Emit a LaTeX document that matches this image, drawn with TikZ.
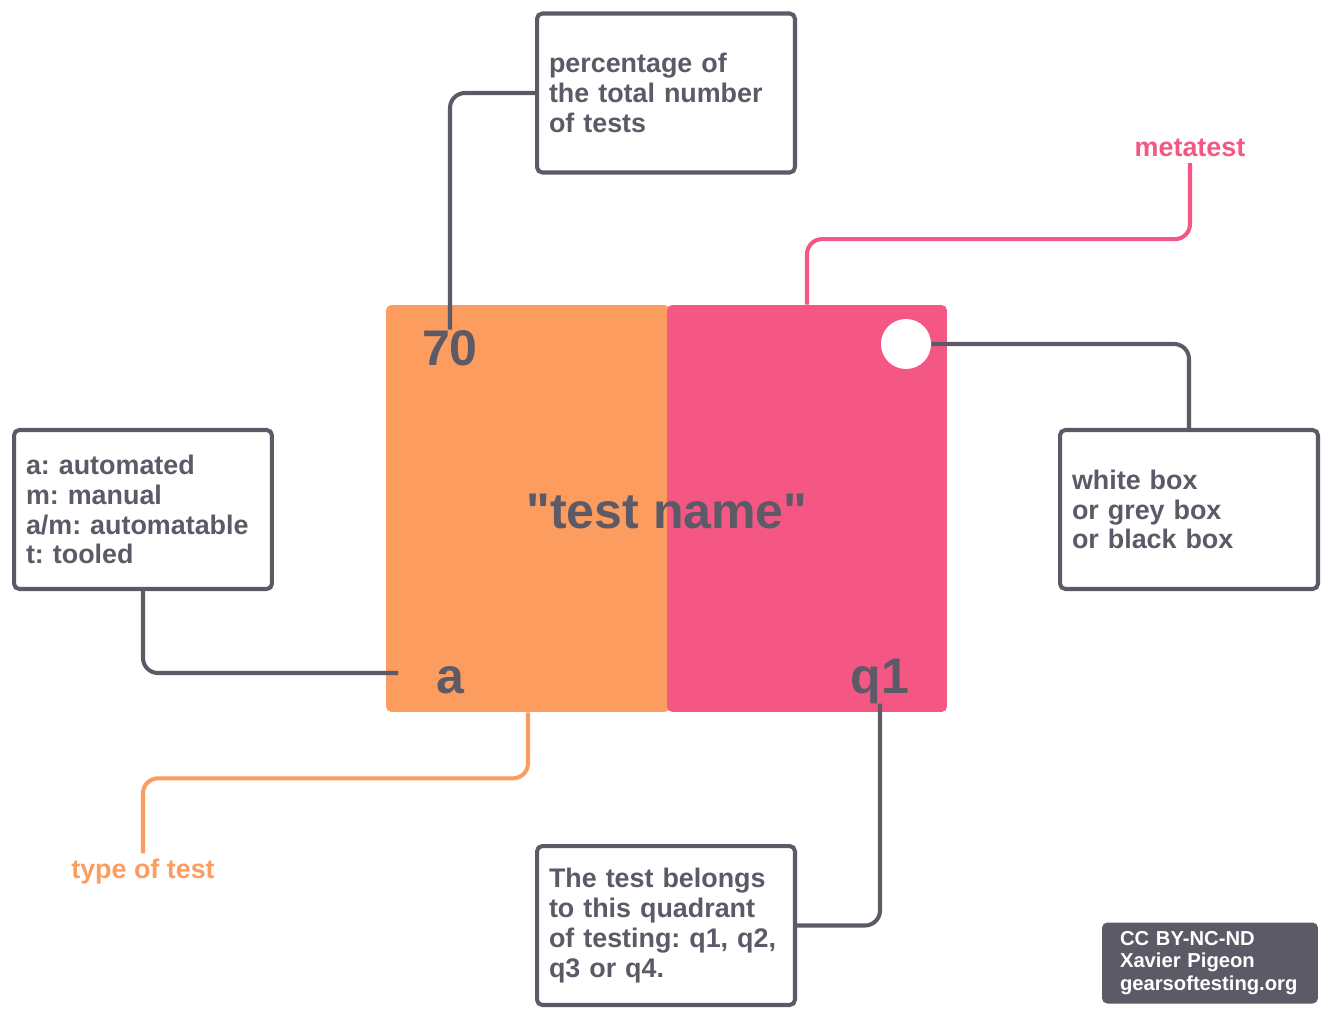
\documentclass[tikz,border=0pt]{standalone}
\usepackage{fontspec}
\setmainfont{Liberation Sans}[Ligatures=TeXOff]
\frenchspacing

\definecolor{ink}{HTML}{5B5A66}
\definecolor{tangerine}{HTML}{FD9C5F}
\definecolor{rose}{HTML}{F55784}

\begin{document}
\begin{tikzpicture}[
    x=0.02cm, y=-0.02cm,
    note/.style={rectangle, draw=ink, line width=2.3pt, rounded corners=3pt, text=ink,
        align=left, text width=4.68cm, inner xsep=0.24cm, inner ysep=0pt,
        minimum height=3.18cm, font=\bfseries\fontsize{15.3}{17}\selectfont},
    credit/.style={rectangle, fill=ink, rounded corners=3pt, text=white, align=left,
        text width=3.6cm, inner xsep=0.36cm, inner ysep=0pt, minimum height=1.62cm,
        font=\bfseries\fontsize{11.5}{13}\selectfont},
    cell/.style={rectangle, rounded corners=3pt, inner sep=0pt, minimum height=8.14cm},
    big/.style={text=ink, inner sep=0pt, anchor=base, font=\bfseries\fontsize{28.5}{34}\selectfont},
    tag/.style={font=\bfseries\fontsize{15.3}{17}\selectfont},
    link/.style={draw=ink, line width=2.3pt, rounded corners=0.3cm}
]
    \fill[white] (0,0) rectangle (1332,1017);
    \useasboundingbox (0,0) rectangle (1332,1017);

    % the test card
    \node[cell, fill=tangerine, minimum width=5.68cm] (typecell) at (528,508.5) {};
    \node[cell, fill=rose, minimum width=5.6cm] (quadcell) at (807,508.5) {};
    \node[circle, fill=white, minimum size=1cm, inner sep=0pt] (dot) at (906,344) {};

    \node[big] (pct) at (450,365) {70};
    \node[big] (kind) at (450,693) {a};
    \node[big] (quad) at (880,693) {q1};
    \node[big] (name) at (667,528) {"test name"};

    % explanations
    \node[note] (pctbox) at (666,93) {percentage of\\the total number\\of tests};
    \node[note] (kindbox) at (143,509.5) {a: automated\\m: manual\\a/m: automatable\\t: tooled};
    \node[note] (whitebox) at (1189,509.5) {white box\\or grey box\\or black box};
    \node[note] (quadbox) at (666,925.5) {The test belongs\\to this quadrant\\of testing: q1, q2,\\q3 or q4.};
    \node[tag, text=rose] (metalabel) at (1190,148) {metatest};
    \node[tag, text=tangerine] (typelabel) at (143,872) {type of test};
    \node[credit] (license) at (1210,963) {CC BY-NC-ND\\Xavier Pigeon\\gearsoftesting.org};

    \coordinate (kindend) at (398,673);

    \draw[link] (pct.north) |- (pctbox.west);
    \draw[link] (kindbox.south) |- (kindend);
    \draw[link, draw=tangerine] (typecell.south) -- ++(0,66) -| (typelabel.north);
    \draw[link, draw=rose] (metalabel.south) -- ++(0,76) -| (quadcell.north);
    \draw[link] (dot.east) -| (whitebox.north);
    \draw[link] (quad.south) |- (quadbox.east);
\end{tikzpicture}
\end{document}
